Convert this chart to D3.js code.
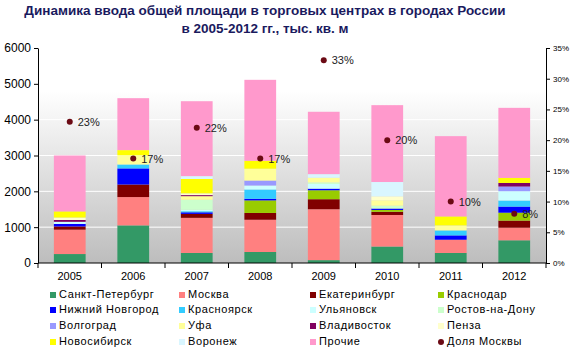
<!DOCTYPE html>
<html>
<head>
<meta charset="utf-8">
<script src="https://cdn.jsdelivr.net/npm/d3@7"></script>
<style>
  body { margin: 0; background: #fff; }
  svg { font-family: "Liberation Sans", Arial, sans-serif; }
</style>
</head>
<body>
<svg id="chart"></svg>
<script>
const years = ["2005", "2006", "2007", "2008", "2009", "2010", "2011", "2012"];

const cities = ["Санкт-Петербург", "Москва", "Екатеринбург", "Краснодар",
                "Нижний Новгород", "Красноярск", "Ульяновск", "Ростов-на-Дону",
                "Волгоград", "Уфа", "Владивосток", "Пенза",
                "Новосибирск", "Воронеж", "Прочие"];

const colors = ["#339966", "#ff8080", "#800000", "#99cc00",
                "#0000ff", "#33ccff", "#ccffff", "#ccffcc",
                "#9999ff", "#ffff99", "#800060", "#ffffcc",
                "#ffff00", "#d9f6ff", "#ff99cc"];

// тыс. кв. м, по городам, 2005..2012
const spb       = [250, 1050, 280, 307, 80, 460, 280, 634];
const moscow    = [680, 790, 980, 900, 1420, 880, 370, 350];
const ekb       = [90, 350, 110, 190, 280, 90, 0, 200];
const krasnodar = [0, 0, 0, 350, 250, 50, 0, 220];
const nnov      = [70, 450, 45, 45, 45, 40, 120, 170];
const krasnoyarsk = [0, 110, 30, 260, 0, 0, 140, 170];
const ulyanovsk = [60, 0, 40, 110, 130, 0, 0, 260];
const rostov    = [0, 0, 280, 0, 45, 80, 0, 0];
const volgograd = [0, 0, 0, 140, 0, 0, 0, 130];
const ufa       = [0, 260, 100, 330, 130, 150, 140, 0];
const vladivostok = [50, 0, 30, 0, 0, 0, 0, 100];
const penza     = [70, 0, 50, 0, 0, 110, 0, 0];
const novosib   = [170, 140, 400, 220, 0, 0, 250, 140];
const voronezh  = [0, 0, 80, 0, 100, 400, 0, 0];
const other     = [1560, 1450, 2090, 2260, 1740, 2145, 2240, 1956];

const moscowShare = [23, 17, 22, 17, 33, 20, 10, 8];

const leftTicks = [0, 1000, 2000, 3000, 4000, 5000, 6000];
const rightTicks = [0, 5, 10, 15, 20, 25, 30, 35];

const series = [spb, moscow, ekb, krasnodar, nnov, krasnoyarsk, ulyanovsk, rostov,
                volgograd, ufa, vladivostok, penza, novosib, voronezh, other];

const width = 571, height = 359;
const margin = {left: 38, right: 25, top: 48, bottom: 96};
const plotW = width - margin.left - margin.right;
const plotH = height - margin.top - margin.bottom;

const rows = years.map((y, i) => {
  const r = {year: y};
  cities.forEach((c, k) => r[c] = series[k][i]);
  return r;
});
const stacked = d3.stack().keys(cities)(rows);

const svg = d3.select("#chart").attr("width", width).attr("height", height);

// title
svg.append("text").attr("x", 265).attr("y", 15).attr("text-anchor", "middle")
   .attr("font-size", 13.5).attr("font-weight", "bold").attr("fill", "#1a1a5e")
   .text("Динамика ввода общей площади в торговых центрах в городах России");
svg.append("text").attr("x", 265).attr("y", 33).attr("text-anchor", "middle")
   .attr("font-size", 13.5).attr("font-weight", "bold").attr("fill", "#1a1a5e")
   .text("в 2005-2012 гг., тыс. кв. м");

const defs = svg.append("defs");
const grad = defs.append("linearGradient").attr("id", "bg")
  .attr("x1", 0).attr("y1", 0).attr("x2", 0).attr("y2", 1);
grad.append("stop").attr("offset", "0%").attr("stop-color", "#ffffff");
grad.append("stop").attr("offset", "20%").attr("stop-color", "#ffffff");
grad.append("stop").attr("offset", "100%").attr("stop-color", "#bdbdbd");

const g = svg.append("g").attr("transform", `translate(${margin.left},${margin.top})`);

g.append("rect").attr("width", plotW).attr("height", plotH).attr("fill", "url(#bg)");

const x = d3.scaleBand().domain(years).range([0, plotW]).paddingInner(0.5).paddingOuter(0.25);
const y = d3.scaleLinear().domain([0, 6000]).range([plotH, 0]);
const y2 = d3.scaleLinear().domain([0, 35]).range([plotH, 0]);

// gridlines
g.selectAll(".grid").data(leftTicks.slice(1, -1)).enter().append("line")
  .attr("x1", 0).attr("x2", plotW)
  .attr("y1", d => y(d)).attr("y2", d => y(d))
  .attr("stroke", "#ffffff").attr("stroke-width", 1);

// bars
g.selectAll(".layer").data(stacked).enter().append("g")
  .attr("fill", (d, i) => colors[i])
  .selectAll("rect").data(d => d).enter().append("rect")
  .attr("x", d => x(d.data.year))
  .attr("width", x.bandwidth())
  .attr("y", d => y(d[1]))
  .attr("height", d => y(d[0]) - y(d[1]));

// axes
const xAxisBand = d3.scaleLinear().domain([0, years.length]).range([0, plotW]);
const xAx = g.append("g").attr("transform", `translate(0,${plotH})`);
xAx.append("line").attr("x1", 0).attr("x2", plotW).attr("stroke", "#000");
xAx.selectAll(".tk").data(d3.range(0, years.length + 1)).enter().append("line")
  .attr("x1", d => xAxisBand(d)).attr("x2", d => xAxisBand(d))
  .attr("y1", 0).attr("y2", 5).attr("stroke", "#000");
xAx.selectAll(".lbl").data(years).enter().append("text")
  .attr("x", d => x(d) + x.bandwidth() / 2).attr("y", 17)
  .attr("text-anchor", "middle").attr("font-size", 11).attr("fill", "#000")
  .text(d => d);

const yAx = g.append("g").call(d3.axisLeft(y).tickValues(leftTicks).tickSize(4)
  .tickSizeOuter(0).tickFormat(d3.format("d")));
yAx.selectAll("text").attr("font-size", 12).attr("fill", "#000")
   .attr("font-family", "'Liberation Sans', Arial, sans-serif");
yAx.select(".domain").attr("stroke", "#000");

const y2Ax = g.append("g").attr("transform", `translate(${plotW},0)`)
  .call(d3.axisRight(y2).tickValues(rightTicks).tickSize(4).tickSizeOuter(0).tickFormat(d => d + "%"));
y2Ax.selectAll("text").attr("font-size", 8).attr("fill", "#000")
   .attr("font-family", "'Liberation Sans', Arial, sans-serif");

// Доля Москвы
const dots = g.selectAll(".dot").data(moscowShare).enter().append("g")
  .attr("transform", (d, i) => `translate(${x(years[i]) + x.bandwidth() / 2},${y2(d)})`);
dots.append("circle").attr("r", 3).attr("fill", "#6b0a14");
dots.append("text").attr("x", 8).attr("y", 4).attr("font-size", 11).attr("fill", "#222")
  .text(d => d + "%");

// legend
const legendItems = cities.concat(["Доля Москвы"]);
const colX = [50, 179, 310, 438];
const rowY = [298, 313, 329, 345];
const lg = svg.selectAll(".leg").data(legendItems).enter().append("g")
  .attr("transform", (d, i) => `translate(${colX[i % 4]},${rowY[Math.floor(i / 4)]})`);
lg.each(function(d, i) {
  const s = d3.select(this);
  if (i < cities.length) {
    s.append("rect").attr("x", 0).attr("y", -6).attr("width", 6).attr("height", 6)
     .attr("fill", colors[i]);
  } else {
    s.append("circle").attr("cx", 3).attr("cy", -3).attr("r", 3).attr("fill", "#6b0a14");
  }
});
lg.append("text").attr("x", 9).attr("y", 0).attr("font-size", 11).attr("fill", "#000")
  .attr("letter-spacing", 0.6).text(d => d);
</script>
</body>
</html>
